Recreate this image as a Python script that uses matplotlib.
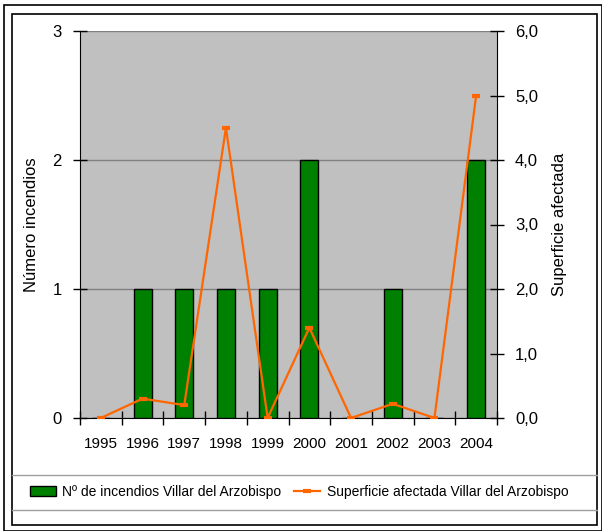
import matplotlib
matplotlib.use("Agg")
import matplotlib.pyplot as plt
from matplotlib.patches import Rectangle
from matplotlib.lines import Line2D
from matplotlib.ticker import FuncFormatter

years = ["1995", "1996", "1997", "1998", "1999", "2000", "2001", "2002", "2003", "2004"]
incendios = [0, 1, 1, 1, 1, 2, 0, 1, 0, 2]
superficie = [0.0, 0.3, 0.2, 4.5, 0.0, 1.4, 0.0, 0.22, 0.0, 5.0]

plt.rcParams["font.family"] = ["Liberation Sans", "DejaVu Sans"]
plt.rcParams["font.size"] = 12

fig = plt.figure(figsize=(6.02, 5.31), dpi=100)
W, H = 602, 531

def fx(px):
    return px / W

def fy(py):
    return 1 - py / H

ax = fig.add_axes([fx(80), fy(418), fx(497) - fx(80), fy(31) - fy(418)])
ax.set_facecolor("#C0C0C0")
x = list(range(len(years)))
ax.bar(x, incendios, width=0.43, color="#008000", edgecolor="black", linewidth=1,
       zorder=3, label="Nº de incendios Villar del Arzobispo")
ax.set_xlim(-0.5, len(years) - 0.5)
ax.set_ylim(0, 3)
ax.set_yticks([0, 1, 2, 3])
ax.yaxis.grid(True, color="#808080", linewidth=1, zorder=1)
ax.set_axisbelow(True)
ax.set_xticks([i - 0.5 for i in range(len(years) + 1)])
ax.set_xticklabels([])
ax.set_xticks(x, minor=True)
ax.set_xticklabels(years, minor=True, fontsize=11)
ax.tick_params(axis="x", which="major", direction="inout", length=10, width=1)
ax.tick_params(axis="x", which="minor", length=0, pad=14)
ax.tick_params(axis="y", direction="inout", length=10, width=1, pad=8)
ax.set_ylabel("Número incendios", labelpad=10)
for s in ["top", "right"]:
    ax.spines[s].set_visible(False)

ax2 = ax.twinx()
ax2.plot(x, superficie, color="#FF6600", linewidth=1.6, marker="_", markersize=6,
         markeredgewidth=3, label="Superficie afectada Villar del Arzobispo", zorder=4)
ax2.set_ylim(0, 6)
ax2.set_yticks([0, 1, 2, 3, 4, 5, 6])
ax2.yaxis.set_major_formatter(FuncFormatter(lambda v, p: f"{v:.1f}".replace(".", ",")))
ax2.tick_params(axis="y", direction="inout", length=10, width=1, pad=8)
ax2.set_ylabel("Superficie afectada", labelpad=10)
for s in ["top", "left", "bottom"]:
    ax2.spines[s].set_visible(False)

# outer and inner frames
fig.patches.append(Rectangle((fx(4), fy(531)), fx(602) - fx(4), fy(5) - fy(531),
                             transform=fig.transFigure, fill=False, edgecolor="black", lw=1.2))
fig.patches.append(Rectangle((fx(12), fy(525)), fx(597) - fx(12), fy(14) - fy(525),
                             transform=fig.transFigure, fill=False, edgecolor="black", lw=1.2))
for py in [475, 510]:
    fig.lines.append(Line2D([fx(12), fx(597)], [fy(py), fy(py)], transform=fig.transFigure,
                            color="#A0A0A0", lw=1))

h1, l1 = ax.get_legend_handles_labels()
h2, l2 = ax2.get_legend_handles_labels()
fig.legend(h1 + h2, l1 + l2, loc="center", bbox_to_anchor=(fx(299), fy(492)), ncol=2,
           frameon=False, handlelength=1.9, handletextpad=0.45, columnspacing=0.9,
           fontsize=10)

fig.savefig("out.png", dpi=100)
